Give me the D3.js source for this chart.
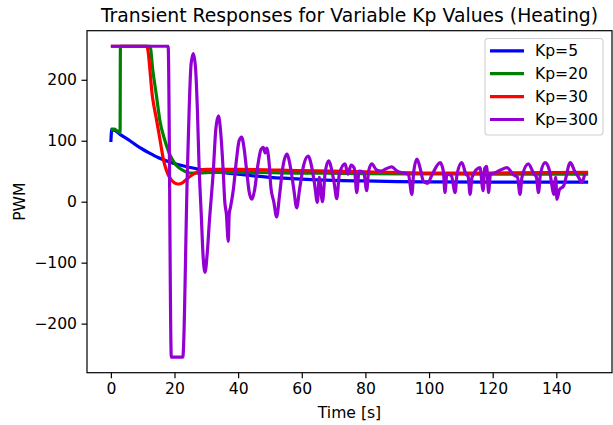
<!DOCTYPE html>
<html>
<head>
<meta charset="utf-8">
<script src="https://cdn.jsdelivr.net/npm/d3@7"></script>
<style>
  body { margin: 0; background: #fff; }
  text { font-family: "DejaVu Sans", sans-serif; }
</style>
</head>
<body>
<div id="chart"></div>
<script>
// values: [time in s, PWM]
const kp5Data = [[0, 98], [0.3, 119], [1.5, 116], [3, 110], [6, 100], [9, 89], [12, 80], [15, 72], [18, 66],
  [21, 61], [25, 56], [30, 51], [35, 48], [40, 45], [50, 40], [60, 37], [70, 35], [80, 34], [90, 33],
  [100, 32.5], [120, 32], [150, 32]];

const kp20Data = [[0, 117], [1, 119], [2, 116], [2.9, 113], [3.0, 255], [12.3, 255], [13.2, 215], [14.4, 171],
  [15.4, 133], [17, 100], [19, 72], [20.7, 59], [22.8, 51], [25, 47], [28, 47], [32, 48], [40, 48], [60, 47],
  [80, 46], [100, 45.5], [120, 45], [150, 45]];

const kp30Data = [[0, 255], [11.3, 255], [13.1, 171], [14.4, 133], [15.5, 100], [16.6, 67], [17.5, 51],
  [18.8, 37], [20, 31], [21.2, 29], [22.5, 31], [23.8, 37], [25.9, 45], [28, 51], [30, 53], [40, 53],
  [60, 51], [80, 49], [100, 47], [120, 47], [150, 48]];

const kp300Data = [[0, 255], [18, 255], [19.0, -255], [22.6, -255], [24.0, 40], [24.6, 150], [25.2, 225],
  [25.9, 243], [26.6, 220], [27.2, 150], [27.7, 62], [28.4, -20], [29.0, -90], [29.6, -116], [30.2, -90],
  [31.0, -30], [32.2, 51], [33.0, 120], [33.8, 141], [34.5, 115], [35.3, 51], [35.8, 0], [36.3, -20],
  [36.9, -65], [37.2, -20], [37.6, -9], [38.5, 20], [39.5, 70], [40.3, 100], [41.1, 106], [41.8, 90],
  [42.7, 50], [43.5, 15], [44.3, 4], [45.2, 20], [46.2, 60], [47.2, 86], [47.9, 89], [48.5, 80], [49.0, 88],
  [49.8, 60], [50.3, 23], [51.2, 0], [52.1, -25], [53, 10], [54, 55], [55.3, 78], [56.5, 55], [57.5, 20],
  [58.4, -10], [59.3, 20], [60.6, 60], [62, 75], [63, 60], [64, 30], [64.9, -1], [65.5, 40], [66.5, 0],
  [67.3, 45], [68.4, 67], [69.5, 50], [70.2, 30], [71, 5], [71.8, 45], [73.6, 62], [74.5, 45], [75.5, 60],
  [76.5, 55], [77.3, 15], [78, 50], [79.5, 48], [80.4, 18], [81, 50], [82, 62], [83.5, 52], [85, 50],
  [86.5, 54], [88.3, 57], [90, 50], [92, 47], [93.5, 45], [94.6, 12], [95.2, 50], [96.2, 70], [97.2, 55],
  [98.2, 34], [99.5, 30], [101, 45], [103.5, 64], [104.5, 50], [105, 15], [105.6, 45], [107, 43],
  [108.2, 15], [108.8, 45], [110.3, 64], [111.6, 45], [112.3, 41], [112.9, 12], [113.5, 40], [116, 56],
  [117, 18], [117.5, 55], [118.1, 58], [118.7, 15], [119.3, 45], [120.5, 47], [122.5, 52], [124.5, 56],
  [126.5, 44], [127.8, 40], [128.6, 12], [129.2, 40], [131.2, 62], [133, 45], [133.7, 41], [134.4, 15],
  [135, 45], [136.5, 64], [137.8, 52], [139.3, 12], [139.8, 40], [140.2, 4], [141, 20], [142.3, 26],
  [144.4, 64], [145.8, 50], [147, 40], [148, 32], [149, 47]];

const seriesNames = ["Kp=5", "Kp=20", "Kp=30", "Kp=300"];
const seriesColors = ["#0000ff", "#008000", "#ff0000", "#9400d3"];
const xTicks = [0, 20, 40, 60, 80, 100, 120, 140];
const yTicks = [-200, -100, 0, 100, 200];

const series = [kp5Data, kp20Data, kp30Data, kp300Data];

const margin = { top: 30.7, right: 1, bottom: 52.3, left: 87 };
const width = 613 - margin.left - margin.right;
const height = 425 - margin.top - margin.bottom;
const fontSize = 15.6;

const xScale = d3.scaleLinear().domain([-7.5, 157.5]).range([0, width]);
const yScale = d3.scaleLinear().domain([-280.5, 280.5]).range([height, 0]);

const svg = d3.select("#chart")
  .append("svg")
  .attr("width", 613)
  .attr("height", 425);

const g = svg.append("g")
  .attr("transform", `translate(${margin.left}, ${margin.top})`);

g.append("clipPath").attr("id", "clip")
  .append("rect").attr("width", width).attr("height", height);

const line = d3.line()
  .x(d => xScale(d[0]))
  .y(d => yScale(d[1]))
  .curve(d3.curveMonotoneX);

g.append("g")
  .attr("clip-path", "url(#clip)")
  .selectAll("path")
  .data(series)
  .join("path")
  .attr("fill", "none")
  .attr("stroke", (d, i) => seriesColors[i])
  .attr("stroke-width", 3.2)
  .attr("stroke-linejoin", "round")
  .attr("d", line);

const fmt = d => d < 0 ? "\u2212" + Math.abs(d) : String(d);

const xAxis = g.append("g")
  .attr("transform", `translate(0, ${height})`)
  .call(d3.axisBottom(xScale).tickValues(xTicks).tickSize(5.5).tickPadding(4.5).tickFormat(fmt));

const yAxis = g.append("g")
  .call(d3.axisLeft(yScale).tickValues(yTicks).tickSize(5.5).tickPadding(4.5).tickFormat(fmt));

[xAxis, yAxis].forEach(ax => {
  ax.select(".domain").remove();
  ax.selectAll("line").attr("stroke", "#000").attr("stroke-width", 1.2);
  ax.selectAll("text").attr("font-size", fontSize).attr("fill", "#000")
    .attr("font-family", "DejaVu Sans");
});

// frame
g.append("rect")
  .attr("width", width).attr("height", height)
  .attr("fill", "none").attr("stroke", "#000").attr("stroke-width", 1.2);

svg.append("text")
  .attr("x", margin.left + width / 2).attr("y", 21.5)
  .attr("text-anchor", "middle").attr("font-size", 18.8)
  .text("Transient Responses for Variable Kp Values (Heating)");

svg.append("text")
  .attr("x", margin.left + width / 2).attr("y", 418)
  .attr("text-anchor", "middle").attr("font-size", fontSize)
  .text("Time [s]");

svg.append("text")
  .attr("transform", `translate(25, ${margin.top + height / 2}) rotate(-90)`)
  .attr("text-anchor", "middle").attr("font-size", fontSize)
  .text("PWM");

// legend
const legend = svg.append("g").attr("transform", "translate(485, 38.5)");
legend.append("rect")
  .attr("width", 118).attr("height", 96.5).attr("rx", 3)
  .attr("fill", "rgba(255,255,255,0.8)").attr("stroke", "#d0d0d0").attr("stroke-width", 1.1);

const items = legend.selectAll("g.item")
  .data(seriesNames)
  .join("g")
  .attr("class", "item")
  .attr("transform", (d, i) => `translate(0, ${12.3 + i * 22.9})`);

items.append("line")
  .attr("x1", 5).attr("x2", 39)
  .attr("stroke", (d, i) => seriesColors[i]).attr("stroke-width", 3.2);

items.append("text")
  .attr("x", 50).attr("y", 5.5)
  .attr("font-size", fontSize)
  .text(d => d);
</script>
</body>
</html>
